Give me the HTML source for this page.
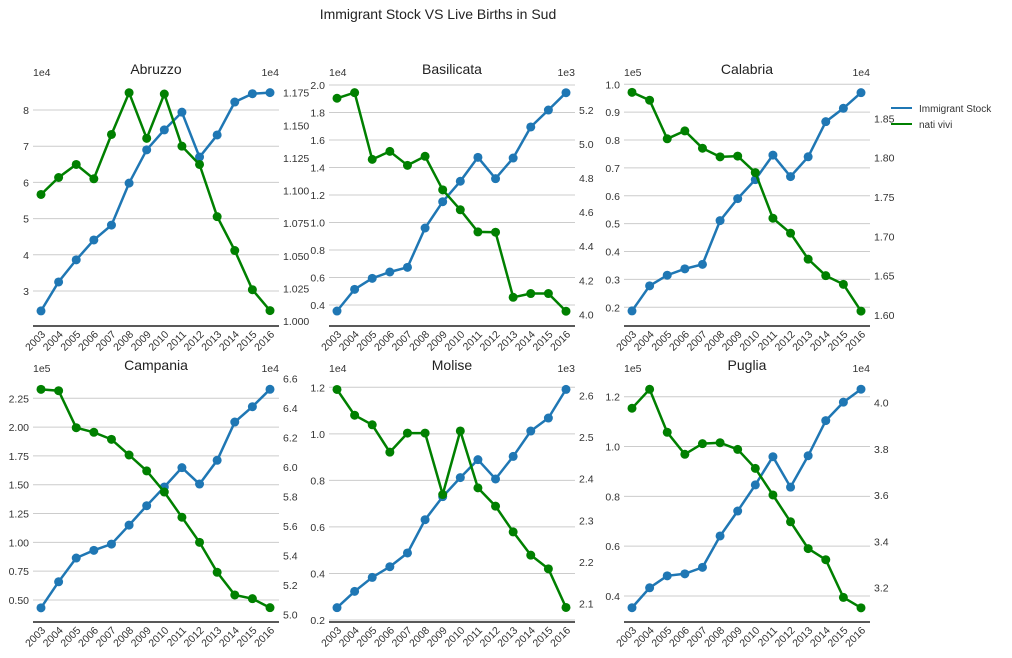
<!DOCTYPE html>
<html><head><meta charset="utf-8"><style>
html,body{margin:0;padding:0;background:#fff;}
svg{display:block;font-family:"Liberation Sans",sans-serif;}
</style></head><body>
<svg id="chart" width="1012" height="658" viewBox="0 0 1012 658">
<text x="438" y="19" text-anchor="middle" font-size="14" fill="#222">Immigrant Stock VS Live Births in Sud</text>
<g>
<line x1="891" y1="108" x2="912" y2="108" stroke="#1f77b4" stroke-width="2"/>
<text x="919" y="112" font-size="10" fill="#333">Immigrant Stock</text>
<line x1="891" y1="124" x2="912" y2="124" stroke="#008000" stroke-width="2"/>
<text x="919" y="128" font-size="10" fill="#333">nati vivi</text>
</g>
</svg>
<script>
const years = [2003,2004,2005,2006,2007,2008,2009,2010,2011,2012,2013,2014,2015,2016];
const regions = ["Abruzzo","Basilicata","Calabria","Campania","Molise","Puglia"];
// Immigrant stock (left axis, scaled by offset)
const immAbruzzo = [2.45,3.25,3.86,4.41,4.82,5.98,6.90,7.45,7.94,6.70,7.31,8.22,8.45,8.48];
const immBasilicata = [0.356,0.514,0.594,0.640,0.674,0.960,1.151,1.300,1.474,1.319,1.469,1.695,1.818,1.944];
const immCalabria = [0.187,0.277,0.315,0.338,0.354,0.511,0.590,0.658,0.746,0.669,0.740,0.866,0.914,0.970];
const immCampania = [0.432,0.658,0.864,0.931,0.985,1.150,1.318,1.480,1.648,1.506,1.712,2.044,2.177,2.328];
const immMolise = [0.253,0.323,0.383,0.429,0.488,0.631,0.730,0.812,0.889,0.806,0.903,1.012,1.068,1.191];
const immPuglia = [0.353,0.433,0.481,0.489,0.515,0.641,0.741,0.846,0.959,0.837,0.963,1.104,1.178,1.230];
// nati vivi (right axis, scaled by offset)
const natiAbruzzo = [1.097,1.110,1.120,1.109,1.143,1.175,1.140,1.174,1.134,1.120,1.080,1.054,1.024,1.008];
const natiBasilicata = [5.269,5.302,4.910,4.957,4.875,4.928,4.731,4.614,4.484,4.482,4.100,4.122,4.122,4.018];
const natiCalabria = [1.883,1.873,1.824,1.834,1.812,1.801,1.802,1.781,1.723,1.704,1.671,1.650,1.639,1.605];
const natiCampania = [6.525,6.516,6.265,6.234,6.186,6.080,5.972,5.829,5.658,5.488,5.285,5.131,5.106,5.045];
const natiMolise = [2.615,2.553,2.530,2.464,2.510,2.510,2.362,2.515,2.378,2.334,2.272,2.216,2.183,2.090];
const natiPuglia = [3.976,4.058,3.872,3.777,3.823,3.827,3.798,3.716,3.601,3.485,3.369,3.321,3.158,3.113];
// tick labels
const leftTicksAbruzzo = [3,4,5,6,7,8];
const leftTicksBasilicata = [0.4,0.6,0.8,1.0,1.2,1.4,1.6,1.8,2.0];
const leftTicksCalabria = [0.2,0.3,0.4,0.5,0.6,0.7,0.8,0.9,1.0];
const leftTicksCampania = [0.50,0.75,1.00,1.25,1.50,1.75,2.00,2.25];
const leftTicksMolise = [0.2,0.4,0.6,0.8,1.0,1.2];
const leftTicksPuglia = [0.4,0.6,0.8,1.0,1.2];
const rightTicksAbruzzo = [1.000,1.025,1.050,1.075,1.100,1.125,1.150,1.175];
const rightTicksBasilicata = [4.0,4.2,4.4,4.6,4.8,5.0,5.2];
const rightTicksCalabria = [1.60,1.65,1.70,1.75,1.80,1.85];
const rightTicksCampania = [5.0,5.2,5.4,5.6,5.8,6.0,6.2,6.4,6.6];
const rightTicksMolise = [2.1,2.2,2.3,2.4,2.5,2.6];
const rightTicksPuglia = [3.2,3.4,3.6,3.8,4.0];
const leftOffsets = ["1e4","1e4","1e5","1e5","1e4","1e5"];
const rightOffsets = ["1e4","1e3","1e4","1e4","1e3","1e4"];

// layout (pixel calibration, not data)
const layout = [
 {x0:33,top:81,bot:326,ld:[8,110,3,291],rd:[1.175,92.7,1.0,321],ldec:0,rdec:3},
 {x0:329,top:81,bot:326,ld:[2.0,85,0.4,305],rd:[5.2,110,4.0,314.3],ldec:1,rdec:1},
 {x0:624,top:81,bot:326,ld:[1.0,84.3,0.2,307.3],rd:[1.85,118.3,1.6,315],ldec:1,rdec:2},
 {x0:33,top:377,bot:622,ld:[2.25,398.3,0.5,600],rd:[6.6,378.3,5.0,614.3],ldec:2,rdec:1},
 {x0:329,top:377,bot:622,ld:[1.2,387.3,0.2,620],rd:[2.6,395.7,2.1,603.3],ldec:1,rdec:1},
 {x0:624,top:377,bot:622,ld:[1.2,396.7,0.4,596],rd:[4.0,402.7,3.2,587.7],ldec:1,rdec:1}
];
const immAll=[immAbruzzo,immBasilicata,immCalabria,immCampania,immMolise,immPuglia];
const natiAll=[natiAbruzzo,natiBasilicata,natiCalabria,natiCampania,natiMolise,natiPuglia];
const lAll=[leftTicksAbruzzo,leftTicksBasilicata,leftTicksCalabria,leftTicksCampania,leftTicksMolise,leftTicksPuglia];
const rAll=[rightTicksAbruzzo,rightTicksBasilicata,rightTicksCalabria,rightTicksCampania,rightTicksMolise,rightTicksPuglia];

const NS="http://www.w3.org/2000/svg";
const svg=document.getElementById('chart');
function mk(tag,attrs,parent){const e=document.createElementNS(NS,tag);for(const k in attrs)e.setAttribute(k,attrs[k]);parent.appendChild(e);return e;}
function lin(c){const [v1,p1,v2,p2]=c;return v=>p1+(v-v1)*(p2-p1)/(v2-v1);}

regions.forEach((name,i)=>{
  const L=layout[i];const W=246;
  const g=mk('g',{},svg);
  
  
  const yl=lin(L.ld), yr=lin(L.rd);
  const xs=y=>L.x0+8+(y-years[0])*(229/(years[years.length-1]-years[0]));
  lAll[i].forEach(t=>{
    const y=yl(t);
    const gl=mk('line',{x1:L.x0,x2:L.x0+W,y1:y,y2:y,stroke:'#cccccc','stroke-width':1},g);
    
    
    const tx=mk('text',{x:L.x0-4,y:y+4,'text-anchor':'end','font-size':10.5,fill:'#333'},g);
    
    
    tx.textContent=t.toFixed(L.ldec);
  });
  rAll[i].forEach(t=>{
    const y=yr(t);
    const tx=mk('text',{x:L.x0+W+4,y:y+4,'font-size':10.5,fill:'#333'},g);
    
    
    tx.textContent=t.toFixed(L.rdec);
  });
  const t=mk('text',{x:L.x0+W/2,y:L.top-7,'text-anchor':'middle','font-size':14,fill:'#222'},g);
  
  
  t.textContent=name;
  const lo=mk('text',{x:L.x0,y:L.top-5,'font-size':10.5,fill:'#333'},g);
  
  
  lo.textContent=leftOffsets[i];
  const ro=mk('text',{x:L.x0+W,y:L.top-5,'text-anchor':'end','font-size':10.5,fill:'#333'},g);
  
  
  ro.textContent=rightOffsets[i];
  const sp=mk('line',{x1:L.x0,x2:L.x0+W,y1:L.bot,y2:L.bot,stroke:'#222','stroke-width':1.5},g);
  
  
  years.forEach(yr0=>{
    const x=xs(yr0);
    const tl=mk('text',{x:x+5,y:L.bot+9,'text-anchor':'end','font-size':10.5,fill:'#333',transform:`rotate(-45 ${x+5} ${L.bot+9})`},g);
    
    
    tl.textContent=yr0;
  });
  [[immAll[i],yl,'#1f77b4','immigrant'],[natiAll[i],yr,'#008000','nati-vivi']].forEach(([vals,sc,col,nm])=>{
    const pts=vals.map((v,k)=>xs(years[k]).toFixed(1)+','+sc(v).toFixed(1)).join(' ');
    const pl=mk('polyline',{points:pts,fill:'none',stroke:col,'stroke-width':2.5},g);
    
    
    vals.forEach((v,k)=>{
      const c=mk('circle',{cx:xs(years[k]),cy:sc(v),r:4.5,fill:col},g);
      
      
    });
  });
});
</script>
</body></html>
